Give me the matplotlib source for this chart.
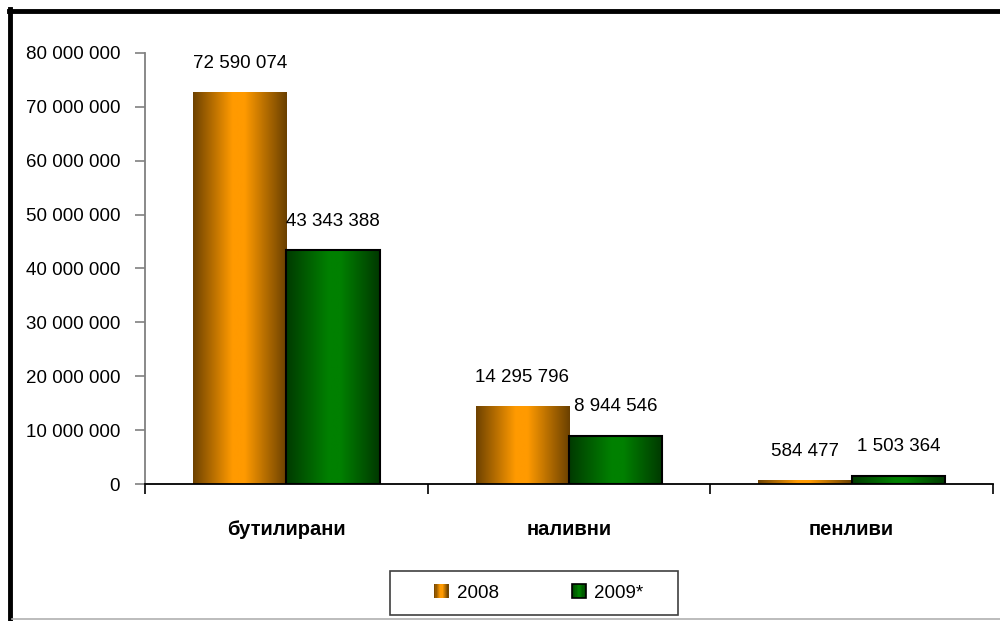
import matplotlib.pyplot as plt
import numpy as np
from matplotlib.colors import LinearSegmentedColormap
from matplotlib.legend_handler import HandlerBase
from matplotlib.patches import Rectangle, Patch
from matplotlib.lines import Line2D

categories = ["бутилирани", "наливни", "пенливи"]
series_names = ["2008", "2009*"]
values_2008 = [72590074, 14295796, 584477]
values_2009 = [43343388, 8944546, 1503364]
yticks = [0, 10000000, 20000000, 30000000, 40000000, 50000000, 60000000, 70000000, 80000000]

plt.rcParams['font.family'] = ["Liberation Sans Narrow", "Liberation Sans", "DejaVu Sans"]

orange_cmap = LinearSegmentedColormap.from_list(
    "org", [(0, "#6e4200"), (0.42, "#ff9a00"), (0.55, "#ff9a00"), (1, "#6a4000")])
green_cmap = LinearSegmentedColormap.from_list(
    "grn", [(0, "#003a00"), (0.45, "#008000"), (0.58, "#008000"), (1, "#003800")])


def fmt(v):
    return f"{v:,}".replace(",", " ")


class GradientHandler(HandlerBase):
    def __init__(self, cmap, edge):
        super().__init__()
        self.cmap = cmap
        self.edge = edge

    def create_artists(self, legend, orig_handle, xdescent, ydescent, width, height, fontsize, trans):
        w = width
        x0 = -xdescent
        arts = []
        n = 12
        for i in range(n):
            r = Rectangle((x0 + i * w / n, -ydescent), w / n + 0.3, height,
                          facecolor=self.cmap((i + 0.5) / n), edgecolor="none", transform=trans)
            arts.append(r)
        if self.edge:
            arts.append(Rectangle((x0, -ydescent), w, height, facecolor="none",
                                  edgecolor="black", lw=1.2, transform=trans))
        return arts


fig = plt.figure(figsize=(10, 6.21), dpi=100)
ax = fig.add_axes([0.145, 0.2206, 0.848, 0.6941])

x = np.arange(len(categories))
w = 0.33
b1 = ax.bar(x - w / 2, values_2008, w, color="none", edgecolor="none")
b2 = ax.bar(x + w / 2, values_2009, w, color="none", edgecolor="black", linewidth=1.5, zorder=3)

grad = np.linspace(0, 1, 256).reshape(1, -1)
for bars, cmap in [(b1, orange_cmap), (b2, green_cmap)]:
    for r in bars:
        x0, y0 = r.get_x(), r.get_y()
        ax.imshow(grad, cmap=cmap, aspect="auto", zorder=2,
                  extent=[x0, x0 + r.get_width(), y0, y0 + r.get_height()])

for bars, vals in [(b1, values_2008), (b2, values_2009)]:
    for r, v in zip(bars, vals):
        ax.annotate(fmt(v), (r.get_x() + r.get_width() / 2, r.get_height()),
                    xytext=(0, 21), textcoords="offset points", ha="center", va="center",
                    fontsize=13.5)

ax.set_xlim(-0.5, 2.5)
ax.set_ylim(0, 80000000)
ax.set_yticks(yticks)
ax.set_yticklabels([fmt(t) for t in yticks], fontsize=13.5)
ax.set_xticks([-0.5, 0.5, 1.5, 2.5])
ax.set_xticklabels([])
ax.set_xticks(x, minor=True)
ax.set_xticklabels(categories, minor=True, fontsize=14.5, fontweight="bold",
                   family=["Liberation Sans", "DejaVu Sans"])
ax.tick_params(axis="x", which="minor", length=0, pad=26)
ax.tick_params(axis="x", which="major", length=7, width=1.2, color="black", direction="out")
ax.tick_params(axis="y", length=7, width=1.2, color="#808080", pad=11)
for s in ["top", "right"]:
    ax.spines[s].set_visible(False)
ax.spines["left"].set_color("#808080")
ax.spines["left"].set_linewidth(1.3)
ax.spines["bottom"].set_linewidth(1.3)

# legend box drawn separately so its size matches the original
fig.add_artist(Rectangle((0.390, 1 - 615 / 621), 0.288, 44 / 621, transform=fig.transFigure,
                         facecolor="white", edgecolor="#404040", lw=1.2))
handles = [Patch(), Patch()]
leg = fig.legend(handles, series_names, loc="center", bbox_to_anchor=(0.539, 0.045), ncol=2,
                 fontsize=13.5, frameon=False,
                 handlelength=0.75, handleheight=0.75, handletextpad=0.45, columnspacing=3.9,
                 handler_map={handles[0]: GradientHandler(orange_cmap, False),
                              handles[1]: GradientHandler(green_cmap, True)})

# figure border (cropped chart area)
fig.add_artist(Line2D([0.010, 0.010], [0, 0.985], color="black", lw=3.5, transform=fig.transFigure))
fig.add_artist(Line2D([0.0085, 1], [0.983, 0.983], color="black", lw=3.5, transform=fig.transFigure))
fig.add_artist(Line2D([0.012, 1], [0.003, 0.003], color="#b0b0b0", lw=1.2, transform=fig.transFigure))

fig.savefig("out.png", dpi=100)
